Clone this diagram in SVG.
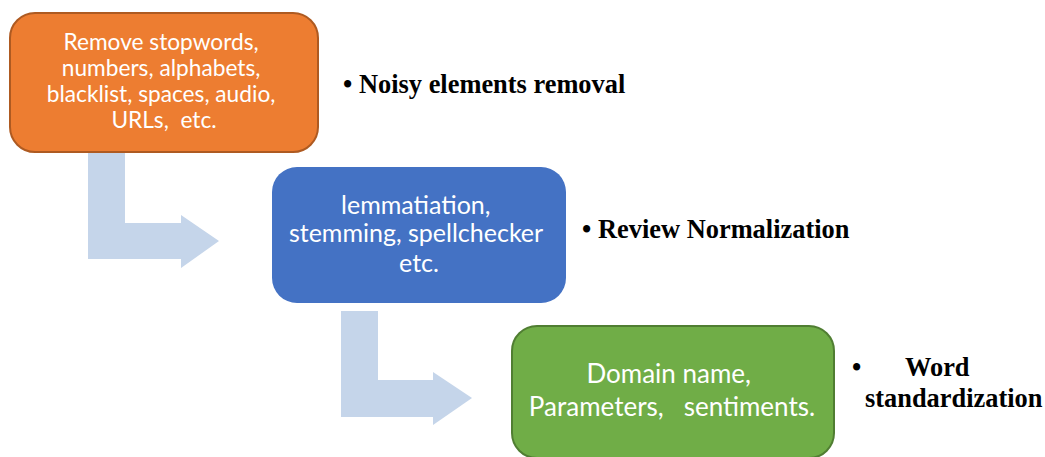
<svg xmlns="http://www.w3.org/2000/svg" width="1045" height="457" viewBox="0 0 1045 457">
<style>
.box-text{font-family:Lato,"Open Sans",sans-serif;fill:#ffffff;text-anchor:middle}
.label{font-family:"Liberation Serif","Times New Roman",serif;font-weight:bold;font-size:26.4px;fill:#000000}
.arrow{fill:#C5D5EA}
</style>
<rect width="1045" height="457" fill="#ffffff"/>
<g id="connectors">
<path class="arrow" d="M88,153 L125,153 L125,223 L181,223 L181,215 L219,241 L181,268 L181,259 L88,259 Z"/>
<path class="arrow" d="M341,311 L378,311 L378,380 L433,380 L433,372 L472,398 L433,425 L433,417 L341,417 Z"/>
</g>
<g id="node-noise">
<rect x="10" y="13" width="308" height="139" rx="25" ry="25" fill="#ED7D31" stroke="#AE5A21" stroke-width="2"/>
<text class="box-text" font-size="22.7">
<tspan x="164" y="50">Remove stopwords,</tspan>
<tspan x="164" y="76">numbers, alphabets,</tspan>
<tspan x="164" y="102">blacklist, spaces, audio,</tspan>
<tspan x="164" y="128" xml:space="preserve">URLs,  etc.</tspan>
</text>
</g>
<g id="node-normalization">
<rect x="272" y="167" width="294" height="136" rx="25" ry="25" fill="#4472C4"/>
<text class="box-text" font-size="25">
<tspan x="419" y="214">lemmatiation,</tspan>
<tspan x="419" y="242">stemming, spellchecker</tspan>
<tspan x="419" y="272">etc.</tspan>
</text>
</g>
<g id="node-standardization">
<rect x="512" y="326" width="322" height="132" rx="25" ry="25" fill="#70AD47" stroke="#507E32" stroke-width="2"/>
<text class="box-text" font-size="26">
<tspan x="672" y="383">Domain name,</tspan>
<tspan x="672" y="416" xml:space="preserve">Parameters,   sentiments.</tspan>
</text>
</g>
<g id="label-noise">
<text class="label"><tspan x="343" y="93">•</tspan><tspan x="359" y="93">Noisy elements removal</tspan></text>
</g>
<g id="label-normalization">
<text class="label"><tspan x="582" y="238">•</tspan><tspan x="598" y="238">Review Normalization</tspan></text>
</g>
<g id="label-standardization">
<text class="label"><tspan x="852" y="376">•</tspan><tspan x="905" y="376">Word</tspan></text>
<text class="label"><tspan x="865" y="407">standardization</tspan></text>
</g>
</svg>
